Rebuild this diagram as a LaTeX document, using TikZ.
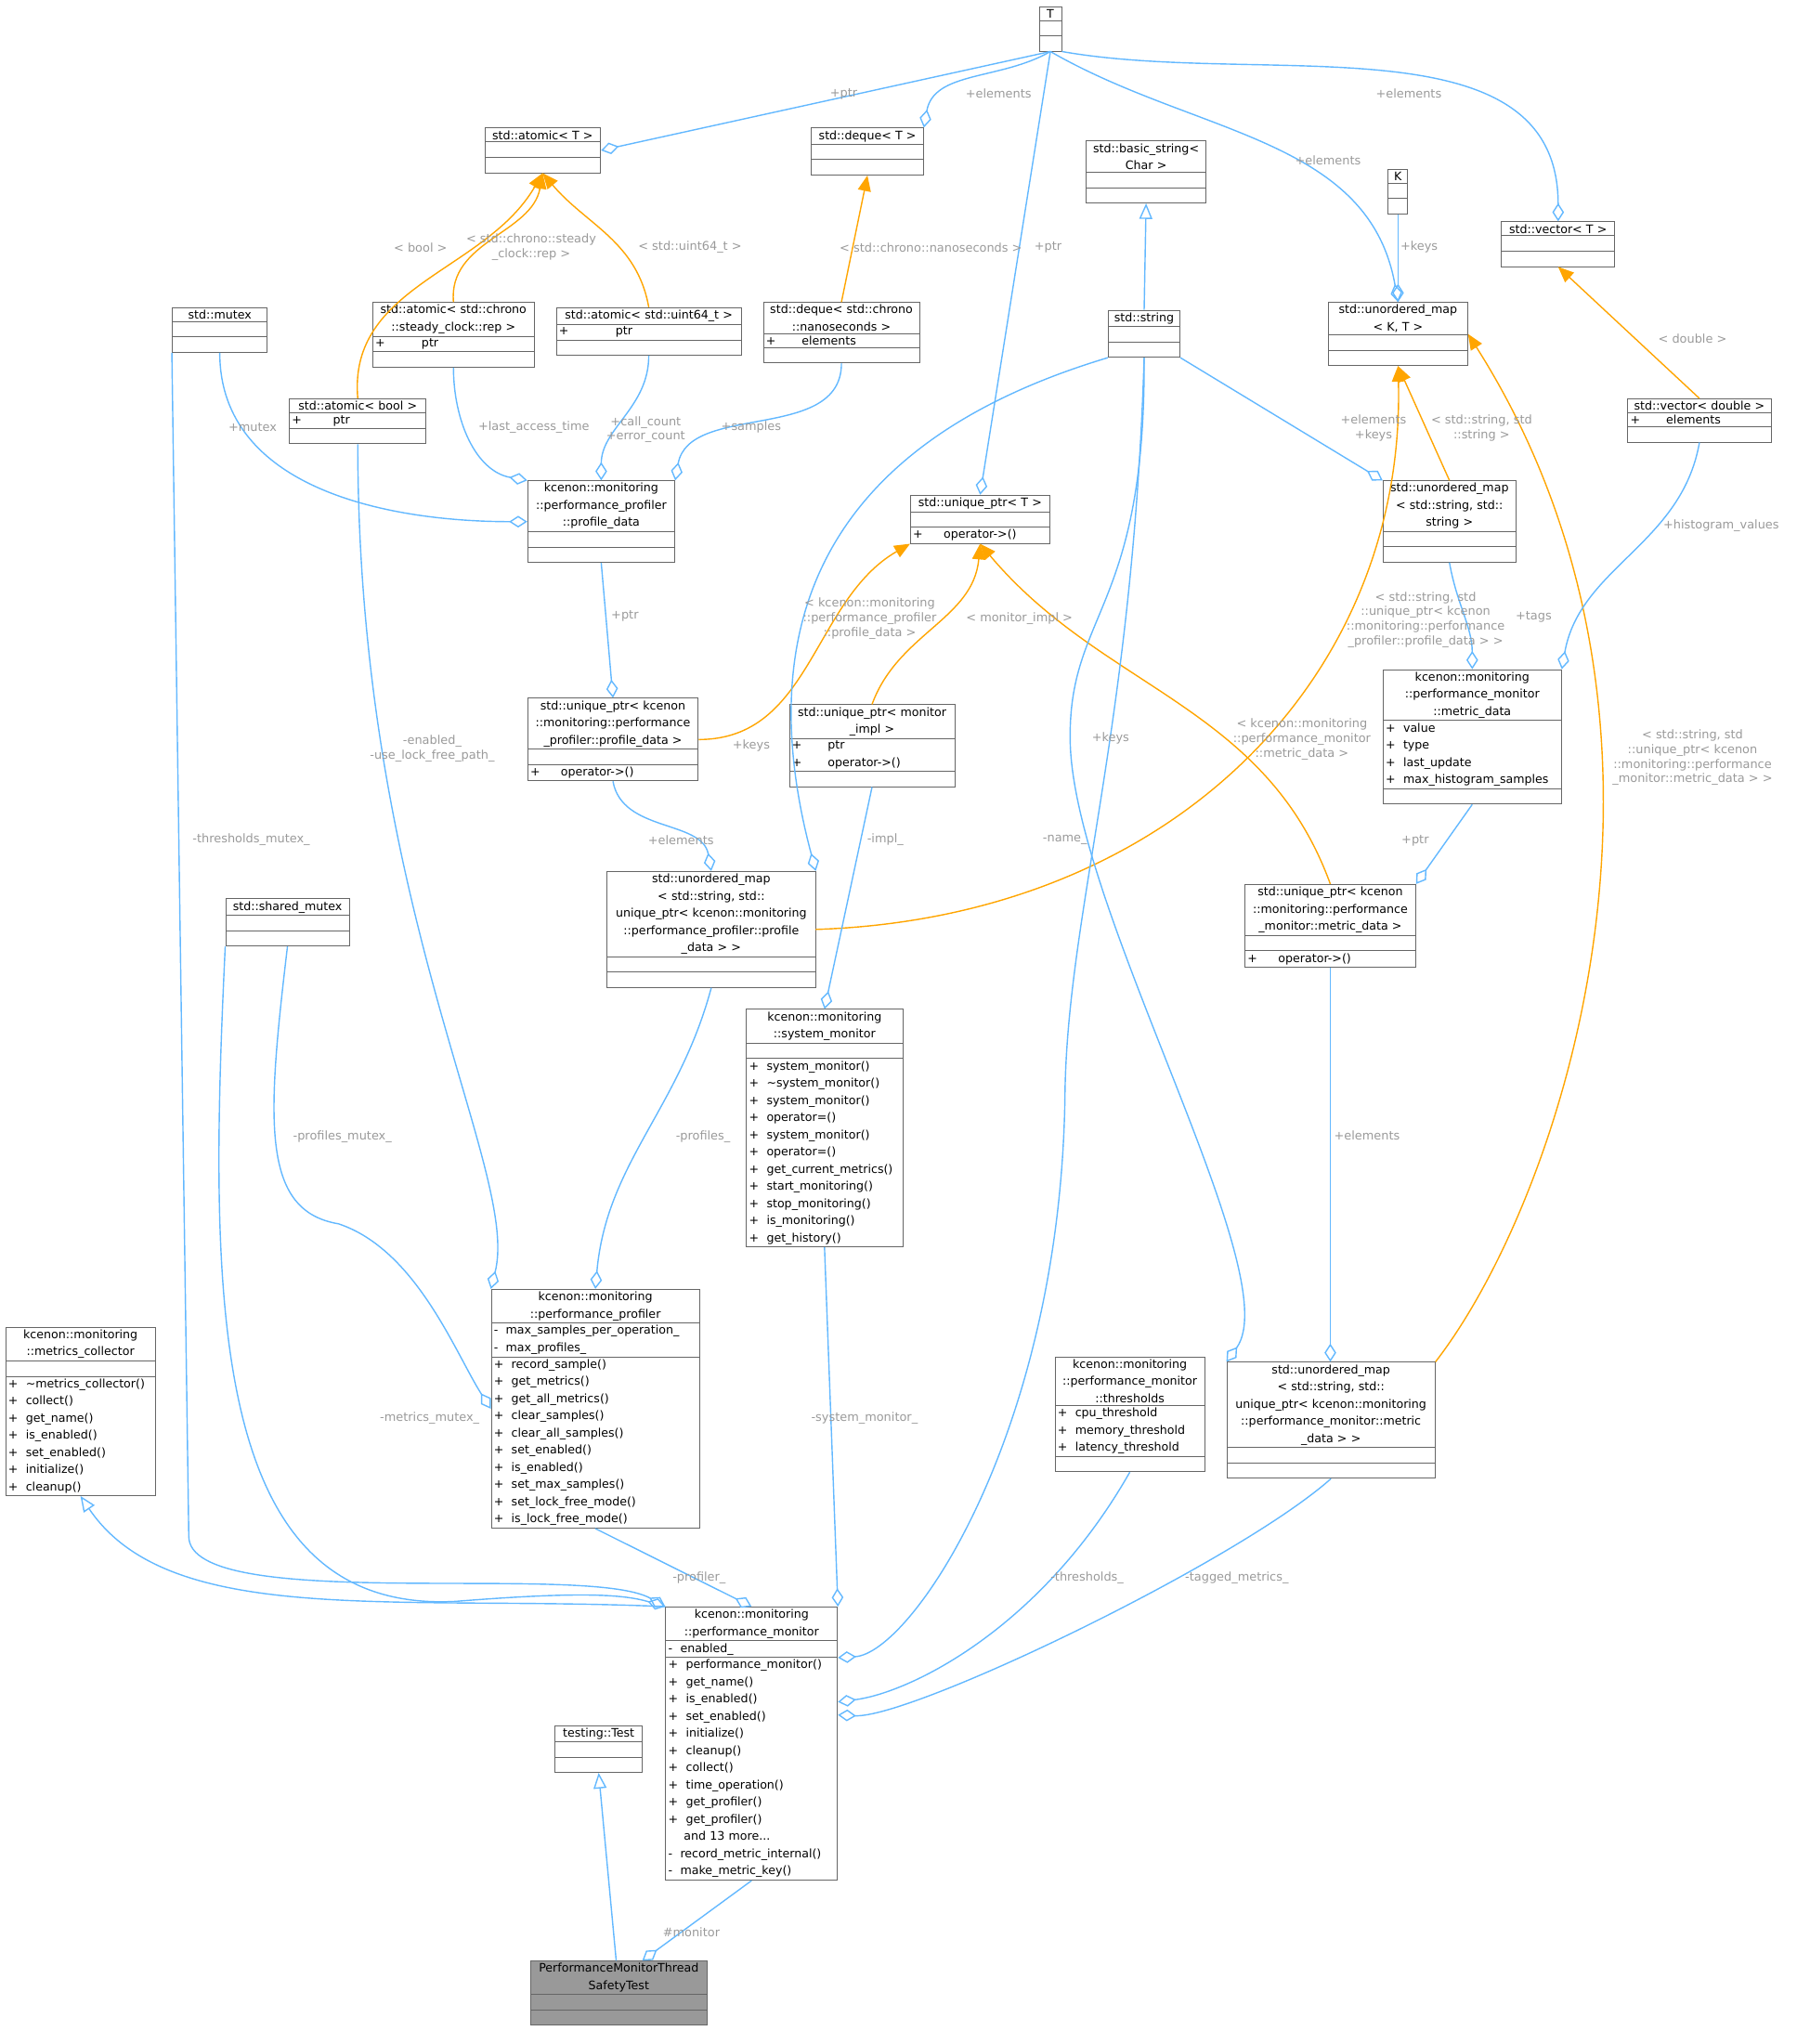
\documentclass[tikz,border=0pt]{standalone}
\usepackage{fontspec}
\setmainfont{DejaVu Sans}
\usetikzlibrary{shapes.multipart, arrows.meta, positioning}
\definecolor{cblue}{HTML}{63B8FF}
\definecolor{corange}{HTML}{FFA500}
\definecolor{clabel}{HTML}{9A9A9A}
\tikzset{
  cls/.style = {rectangle split, rectangle split parts = 3, draw = black!60,
    line width = 0.3pt, anchor = north west, inner xsep = 1pt,
    inner ysep = 0.8pt, font = \fontsize{4.5}{6.6}\selectfont},
  lbl/.style = {text = clabel, align = center, inner sep = 0.5pt,
    font = \fontsize{4.6}{5.6}\selectfont},
  use/.style = {draw = cblue, line width = 0.5pt,
    -{Diamond[open, length = 7pt, width = 4.5pt]}},
  inh/.style = {draw = cblue, line width = 0.5pt,
    -{Triangle[open, length = 6pt, width = 5pt]}},
  tpl/.style = {draw = corange, line width = 0.5pt,
    -{Triangle[length = 6pt, width = 5pt]}}
}
\newcommand\E{\rule{0pt}{4pt}}
\newcommand\umlclass[7][]{\node [cls, text width = #4pt + 1pt, #1] (#2) at (#3)
  {\hyphenpenalty=10000\exhyphenpenalty=10000\centering #5\par\nodepart{two}\hyphenpenalty=10000\raggedright #6\par\nodepart{three}\hyphenpenalty=10000\raggedright #7\par};}
\begin{document}
\begin{tikzpicture}[x = 0.5pt, y = -0.5pt]
  \useasboundingbox (0, 0) rectangle (1380, 1570);
  % top row
  \umlclass{T}{798,5}{5.5}{T}{\E}{\E}
  \umlclass{atomicT}{372,98}{41.5}{std::atomic< T >}{\E}{\E}
  \umlclass{dequeT}{623,98}{40}{std::deque< T >}{\E}{\E}
  \umlclass{bstring}{834,108}{43}{std::basic\_string<\\ Char >}{\E}{\E}
  \umlclass{K}{1066,130}{4.5}{K}{\E}{\E}
  \umlclass{vectorT}{1153,170}{40.5}{std::vector< T >}{\E}{\E}
  % instantiations
  \umlclass{mutex}{132,236}{33.5}{std::mutex}{\E}{\E}
  \umlclass{abool}{222,306}{49.5}{std::atomic< bool >}{+\hspace{12pt}ptr}{\E}
  \umlclass{asteady}{286,232}{59}{std::atomic< std::chrono\\ ::steady\_clock::rep >}{+\hspace{14pt}ptr}{\E}
  \umlclass{auint}{427,236}{68}{std::atomic< std::uint64\_t >}{+\hspace{18pt}ptr}{\E}
  \umlclass{dnanos}{586,232}{57}{std::deque< std::chrono\\ ::nanoseconds >}{+\hspace{10pt}elements}{\E}
  \umlclass{string}{851,238}{24.5}{std::string}{\E}{\E}
  \umlclass{umapKT}{1020,232}{50.5}{std::unordered\_map\\ < K, T >}{\E}{\E}
  \umlclass{vdouble}{1250,306}{52}{std::vector< double >}{+\hspace{10pt}elements}{\E}
  % middle
  \umlclass{profile}{405,369}{53.5}{kcenon::monitoring\\ ::performance\_profiler\\ ::profile\_data}{\E}{\E}
  \umlclass{uptrT}{699,380}{50.5}{std::unique\_ptr< T >}{\E}{+\hspace{8pt}operator->()}
  \umlclass{umapSS}{1062,369}{48}{std::unordered\_map\\ < std::string, std::\\ string >}{\E}{\E}
  \umlclass{uptrProfile}{405,536}{62.5}{std::unique\_ptr< kcenon\\ ::monitoring::performance\\ \_profiler::profile\_data >}{\E}{+\hspace{8pt}operator->()}
  \umlclass{uptrImpl}{606,541}{60.5}{std::unique\_ptr< monitor\\ \_impl >}{+\hspace{10pt}ptr\\ +\hspace{10pt}operator->()}{\E}
  \umlclass{metric}{1062,514}{65.5}{kcenon::monitoring\\ ::performance\_monitor\\ ::metric\_data}{+~ value\\ +~ type\\ +~ last\_update\\ +~ max\_histogram\_samples}{\E}
  \umlclass{umapP}{466,669}{77}{std::unordered\_map\\ < std::string, std::\\ unique\_ptr< kcenon::monitoring\\ ::performance\_profiler::profile\\ \_data > >}{\E}{\E}
  \umlclass{uptrMetric}{956,679}{62.5}{std::unique\_ptr< kcenon\\ ::monitoring::performance\\ \_monitor::metric\_data >}{\E}{+\hspace{8pt}operator->()}
  \umlclass{smutex}{173,690}{44.5}{std::shared\_mutex}{\E}{\E}
  \umlclass{sysmon}{573,775}{57}{kcenon::monitoring\\ ::system\_monitor}{\E}{+~ system\_monitor()\\ +~ \textasciitilde system\_monitor()\\ +~ system\_monitor()\\ +~ operator=()\\ +~ system\_monitor()\\ +~ operator=()\\ +~ get\_current\_metrics()\\ +~ start\_monitoring()\\ +~ stop\_monitoring()\\ +~ is\_monitoring()\\ +~ get\_history()}
  % lower
  \umlclass{profiler}{377,990}{77}{kcenon::monitoring\\ ::performance\_profiler}{-~ max\_samples\_per\_operation\_\\ -~ max\_profiles\_}{+~ record\_sample()\\ +~ get\_metrics()\\ +~ get\_all\_metrics()\\ +~ clear\_samples()\\ +~ clear\_all\_samples()\\ +~ set\_enabled()\\ +~ is\_enabled()\\ +~ set\_max\_samples()\\ +~ set\_lock\_free\_mode()\\ +~ is\_lock\_free\_mode()}
  \umlclass{mcoll}{4,1019}{54.5}{kcenon::monitoring\\ ::metrics\_collector}{\E}{+~ \textasciitilde metrics\_collector()\\ +~ collect()\\ +~ get\_name()\\ +~ is\_enabled()\\ +~ set\_enabled()\\ +~ initialize()\\ +~ cleanup()}
  \umlclass{thresholds}{810,1042}{54.5}{kcenon::monitoring\\ ::performance\_monitor\\ ::thresholds}{+~ cpu\_threshold\\ +~ memory\_threshold\\ +~ latency\_threshold}{\E}
  \umlclass{umapM}{942,1046}{77}{std::unordered\_map\\ < std::string, std::\\ unique\_ptr< kcenon::monitoring\\ ::performance\_monitor::metric\\ \_data > >}{\E}{\E}
  \umlclass{perfmon}{511,1234}{63}{kcenon::monitoring\\ ::performance\_monitor}{-~ enabled\_}{+~ performance\_monitor()\\ +~ get\_name()\\ +~ is\_enabled()\\ +~ set\_enabled()\\ +~ initialize()\\ +~ cleanup()\\ +~ collect()\\ +~ time\_operation()\\ +~ get\_profiler()\\ +~ get\_profiler()\\ \hspace*{6pt}and 13 more...\\ -~ record\_metric\_internal()\\ -~ make\_metric\_key()}
  \umlclass{testing}{426,1325}{30.5}{testing::Test}{\E}{\E}
  \umlclass[fill = black!40]{test}{407,1506}{65}{PerformanceMonitorThread\\ SafetyTest}{\E}{\E}

  % T users
  \draw [use] (T.south) -- (atomicT.east);
  \draw [use] (T.south) to[out = -150, in = 80] (dequeT.north east);
  \draw [use] (T.south) -- (uptrT.north);
  \draw [use] (T.south) to[out = -30, in = 100] (umapKT.north);
  \draw [use] (T.south east) to[out = -10, in = 90] (vectorT.north);
  \draw [use] (K.south) -- (K.south |- umapKT.north);
  \draw [inh] (string.north) -- (bstring.south);
  % instantiations
  \draw [tpl] (abool.north) to[out = 95, in = -120] (atomicT.south);
  \draw [tpl] (asteady.north) to[out = 95, in = -100] (atomicT.south);
  \draw [tpl] (auint.north) to[out = 100, in = -50] (atomicT.south);
  \draw [tpl] (dnanos.north) -- (dequeT.south);
  \draw [tpl] (vdouble.north) -- (vectorT.south);
  \draw [tpl] (uptrProfile.east) to[out = 0, in = -150] (uptrT.south west);
  \draw [tpl] (uptrImpl.north) to[out = 70, in = -95] (uptrT.south);
  \draw [tpl] (uptrMetric.north) to[out = 110, in = -50] (uptrT.south);
  \draw [tpl] (umapSS.north) -- (umapKT.south);
  \draw [tpl] (umapP.east) .. controls (900, 705) and (1080, 520) .. (umapKT.south);
  \draw [tpl] (umapM.north east) .. controls (1200, 920) and (1320, 560) .. (umapKT.east);
  % profile_data members
  \draw [use] (mutex.south) to[out = -90, in = 180] (profile.west);
  \draw [use] (asteady.south) to[out = -90, in = 170] (profile.north west);
  \draw [use] (auint.south) to[out = -90, in = 90] (profile.north);
  \draw [use] (dnanos.south) to[out = -90, in = 80] (profile.north east);
  \draw [use] (profile.south) -- (uptrProfile.north);
  % maps
  \draw [use] (string.south east) -- (umapSS.north west);
  \draw [use] (umapSS.south) to[out = -80, in = 90] (metric.north);
  \draw [use] (vdouble.south) to[out = -100, in = 80] (metric.north east);
  \draw [use] (metric.south) -- (uptrMetric.north east);
  \draw [use] (string.south west) .. controls (700, 320) and (560, 420) .. (umapP.north east);
  \draw [use] (uptrProfile.south) to[out = -80, in = 100] (umapP.north);
  \draw [use] (uptrMetric.south) -- (uptrMetric.south |- umapM.north);
  \draw [use] (string.south) .. controls (880, 470) and (820, 470) .. (822, 570)
    .. controls (825, 700) and (990, 980) .. (umapM.north west);
  % profiler and system monitor
  \draw [use] (abool.south) .. controls (275, 700) and (400, 900) .. (profiler.north west);
  \draw [use] (umapP.south) to[out = -105, in = 85] (profiler.north);
  \draw [use] (smutex.south) .. controls (205, 860) and (200, 930) .. (260, 940)
    .. controls (320, 960) and (350, 1040) .. (profiler.west);
  \draw [use] (uptrImpl.south) -- (sysmon.north);
  % performance monitor
  \draw [use] (mutex.south west) -- (145, 1180) .. controls (145, 1240) and (450, 1200) .. (perfmon.north west);
  \draw [use] (smutex.south west) .. controls (160, 1000) and (160, 1240) .. (350, 1230)
    .. controls (450, 1222) and (480, 1225) .. (perfmon.north west);
  \draw [inh] (perfmon.north west) .. controls (300, 1225) and (130, 1250) .. (mcoll.south);
  \draw [use] (profiler.south) -- (perfmon.north);
  \draw [use] (sysmon.south) -- (perfmon.north east);
  \draw [use] (string.south) .. controls (870, 560) and (820, 700) .. (818, 840)
    .. controls (815, 1100) and (700, 1270) .. ([yshift = 33pt]perfmon.east);
  \draw [use] (thresholds.south) .. controls (800, 1250) and (700, 1300) .. ([yshift = 16pt]perfmon.east);
  \draw [use] (umapM.south) .. controls (950, 1200) and (700, 1320) .. ([yshift = 11pt]perfmon.east);
  \draw [use] (perfmon.south) -- ([xshift = 9pt]test.north);
  \draw [inh] ([xshift = -1pt]test.north) -- (testing.south);

  % labels
  \node [lbl] (l-t1) at (648, 72) {+ptr};
  \node [lbl] (l-t2) at (767, 72) {+elements};
  \node [lbl] (l-t3) at (805, 190) {+ptr};
  \node [lbl] (l-t4) at (1020, 123) {+elements};
  \node [lbl] (l-t5) at (1082, 72) {+elements};
  \node [lbl] (l-k) at (1090, 190) {+keys};
  \node [lbl] (l-bool) at (323, 190) {< bool >};
  \node [lbl] (l-steady) at (408, 190) {< std::chrono::steady\\\_clock::rep >};
  \node [lbl] (l-uint) at (530, 190) {< std::uint64\_t >};
  \node [lbl] (l-nanos) at (715, 190) {< std::chrono::nanoseconds >};
  \node [lbl] (l-double) at (1300, 260) {< double >};
  \node [lbl] (l-mutex) at (194, 328) {+mutex};
  \node [lbl] (l-last) at (410, 328) {+last\_access\_time};
  \node [lbl] (l-count) at (496, 330) {+call\_count\\+error\_count};
  \node [lbl] (l-samples) at (577, 328) {+samples};
  \node [lbl] (l-pptr) at (480, 473) {+ptr};
  \node [lbl] (l-uprof) at (668, 475) {< kcenon::monitoring\\::performance\_profiler\\::profile\_data >};
  \node [lbl] (l-impl) at (783, 475) {< monitor\_impl >};
  \node [lbl] (l-umetric) at (1000, 568) {< kcenon::monitoring\\::performance\_monitor\\::metric\_data >};
  \node [lbl] (l-ss1) at (1055, 329) {+elements\\+keys};
  \node [lbl] (l-ss2) at (1138, 329) {< std::string, std\\::string >};
  \node [lbl] (l-tags) at (1178, 474) {+tags};
  \node [lbl] (l-hist) at (1322, 404) {+histogram\_values};
  \node [lbl] (l-mptr) at (1087, 646) {+ptr};
  \node [lbl] (l-pkeys) at (577, 573) {+keys};
  \node [lbl] (l-pelem) at (523, 645) {+elements};
  \node [lbl] (l-pmap) at (1095, 476) {< std::string, std\\::unique\_ptr< kcenon\\::monitoring::performance\\\_profiler::profile\_data > >};
  \node [lbl] (l-melem) at (1050, 872) {+elements};
  \node [lbl] (l-mkeys) at (853, 567) {+keys};
  \node [lbl] (l-mmap) at (1300, 582) {< std::string, std\\::unique\_ptr< kcenon\\::monitoring::performance\\\_monitor::metric\_data > >};
  \node [lbl] (l-enabled) at (332, 575) {-enabled\_\\-use\_lock\_free\_path\_};
  \node [lbl] (l-profiles) at (540, 873) {-profiles\_};
  \node [lbl] (l-pmutex) at (263, 873) {-profiles\_mutex\_};
  \node [lbl] (l-implm) at (680, 645) {-impl\_};
  \node [lbl] (l-tmutex) at (193, 645) {-thresholds\_mutex\_};
  \node [lbl] (l-mmutex) at (330, 1089) {-metrics\_mutex\_};
  \node [lbl] (l-profiler) at (537, 1212) {-profiler\_};
  \node [lbl] (l-sysmon) at (664, 1089) {-system\_monitor\_};
  \node [lbl] (l-name) at (818, 645) {-name\_};
  \node [lbl] (l-thr) at (835, 1212) {-thresholds\_};
  \node [lbl] (l-tagged) at (950, 1212) {-tagged\_metrics\_};
  \node [lbl] (l-monitor) at (531, 1484) {\#monitor};
\end{tikzpicture}
\end{document}
